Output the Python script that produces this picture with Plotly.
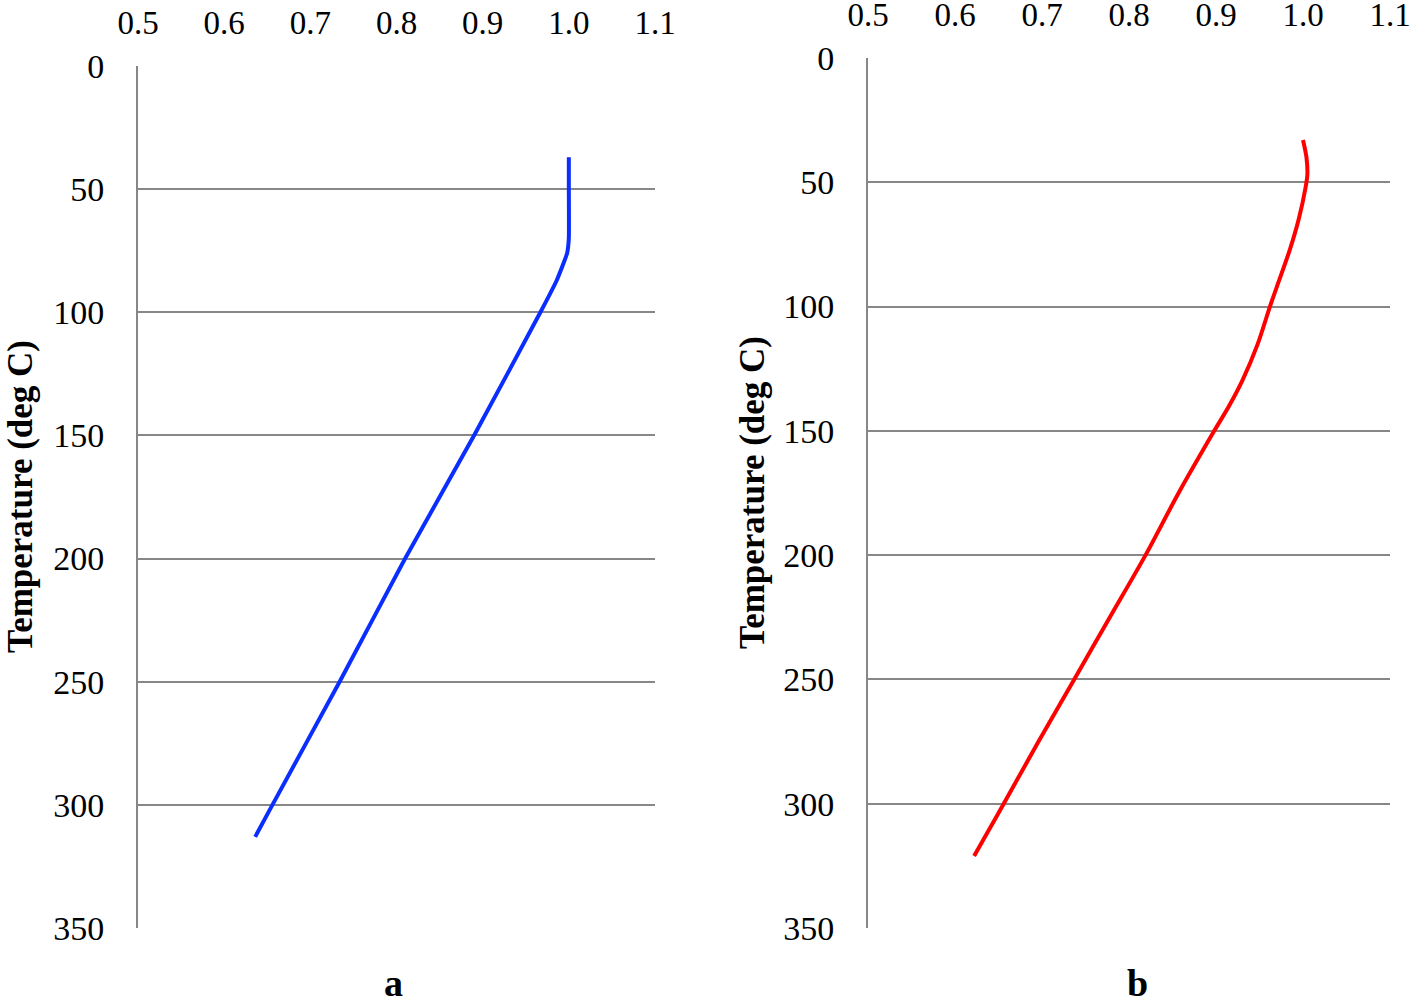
import plotly.graph_objects as go

# Panel a (blue)
ratio_a = [1.0, 1.0, 1.0, 0.998, 0.986, 0.967, 0.89, 0.81, 0.734, 0.656, 0.636]
temp_a = [37, 50, 70, 76, 87, 100, 150, 200, 250, 300, 313]

# Panel b (red)
ratio_b = [1.0, 1.004, 1.005, 1.003, 0.995, 0.985, 0.972, 0.962, 0.948, 0.93, 0.915,
           0.898, 0.857, 0.819, 0.778, 0.737, 0.696, 0.656, 0.635, 0.622]
temp_b = [33, 40, 47, 52, 65, 77, 90, 100, 115, 130, 140,
          150, 175, 200, 225, 250, 275, 300, 313, 321]

x_ticks = [0.5, 0.6, 0.7, 0.8, 0.9, 1.0, 1.1]
y_ticks = [0, 50, 100, 150, 200, 250, 300, 350]

W, H = 1412, 1001
grid = "#878787"
font = "Liberation Serif"


def px(x):
    return x / W


def py(y):
    return 1 - y / H


fig = go.Figure()
fig.add_trace(go.Scatter(x=ratio_a, y=temp_a, mode="lines",
                         line=dict(color="#0A2EFF", width=4, shape="spline", smoothing=0.4),
                         xaxis="x", yaxis="y", showlegend=False))
fig.add_trace(go.Scatter(x=ratio_b, y=temp_b, mode="lines",
                         line=dict(color="#FF0000", width=4, shape="spline", smoothing=0.8),
                         xaxis="x2", yaxis="y2", showlegend=False))


def xax(dom, anchor):
    return dict(domain=dom, anchor=anchor, side="top", range=[0.5, 1.1],
                tickvals=x_ticks, ticktext=[f"{v:.1f}" for v in x_ticks],
                showgrid=False, zeroline=False, showline=False, ticks="",
                automargin=False, ticklabelstandoff=24, ticklabeloverflow="allow",
                tickfont=dict(family=font, size=33, color="black"))


def yax(dom, anchor):
    return dict(domain=dom, anchor=anchor, range=[350, 0], tickvals=y_ticks,
                showgrid=True, gridcolor=grid, gridwidth=2, zeroline=False,
                showline=True, linecolor=grid, linewidth=2, ticks="",
                automargin=False, ticklabelstandoff=25, ticklabeloverflow="allow",
                tickfont=dict(family=font, size=34, color="black"))


fig.update_layout(
    width=W, height=H, margin=dict(l=0, r=0, t=0, b=0),
    plot_bgcolor="white", paper_bgcolor="white",
    xaxis=xax([px(138), px(655)], "y"),
    yaxis=yax([py(928), py(66)], "x"),
    xaxis2=xax([px(868), px(1390)], "y2"),
    yaxis2=yax([py(928), py(58)], "x2"),
)

ann = dict(xref="paper", yref="paper", showarrow=False, xanchor="center", yanchor="middle",
           font=dict(family=font, size=35, color="black"))
fig.add_annotation(text="<b>Temperature (deg C)</b>", x=px(21), y=py(497),
                   textangle=-90, **ann)
fig.add_annotation(text="<b>Temperature (deg C)</b>", x=px(752), y=py(493),
                   textangle=-90, **ann)
lab = dict(xref="paper", yref="paper", showarrow=False, xanchor="center", yanchor="middle",
           font=dict(family=font, size=38, color="black"))
fig.add_annotation(text="<b>a</b>", x=px(393), y=py(983), **lab)
fig.add_annotation(text="<b>b</b>", x=px(1137), y=py(983), **lab)

# drop the default 8px page margin so the figure fills the window exactly
fig.write_html("out.html", config={"displayModeBar": False},
               post_script="document.body.style.margin='0';")
